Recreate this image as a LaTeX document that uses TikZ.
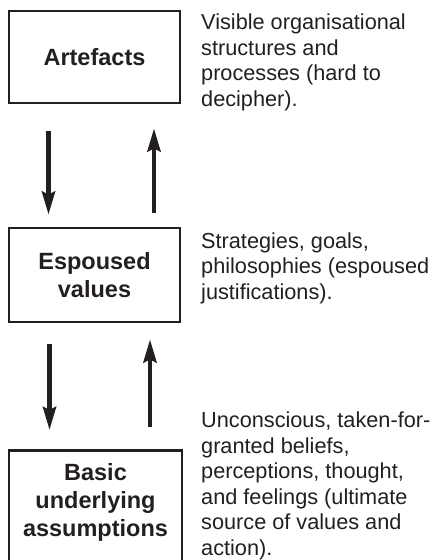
\documentclass[tikz,border=0pt]{standalone}
\usepackage{fontspec}
\setmainfont{Liberation Sans}
\usetikzlibrary{arrows.meta}
\definecolor{ink}{RGB}{35,31,32}
\tikzset{>={Stealth[width=13pt,length=23pt,inset=3pt]}}
\tikzset{
  level/.style={draw=ink, line width=2.8pt, minimum width=171pt, inner sep=0pt,
    align=center, text=ink, font=\fontsize{23.5}{28}\selectfont\bfseries},
  note/.style={anchor=base west, align=left, inner sep=0pt, text=ink,
    font=\fontsize{21.7}{25.5}\selectfont},
  flow/.style={->, draw=ink, line width=4.5pt}
}

\begin{document}
\begin{tikzpicture}[x=1pt,y=-1pt]
  \useasboundingbox (0,0) rectangle (432,560);
  \clip (0,0) rectangle (432,560);

  % levels
  \node[level, minimum height=92pt] (art) at (94.5,57) {Artefacts};
  \node[level, minimum height=94pt] (esp) at (94.5,275) {Espoused\\values};
  \node[level, minimum width=173pt, minimum height=170pt, anchor=north] (bua) at (95.5,449) {};
  \node[level, draw=none] (buatext) at (95.5,502) {Basic\\underlying\\assumptions};

  % notes (base = last line)
  \node[note] (artnote) at (201,106) {Visible organisational\\structures and\\processes (hard to\\decipher).};
  \node[note] (espnote) at (201,299) {Strategies, goals,\\philosophies (espoused\\justifications).};
  \node[note] (buanote) at (201,555) {Unconscious, taken-for-\\granted beliefs,\\perceptions, thought,\\and feelings (ultimate\\source of values and\\action).};

  % art <-> esp
  \draw[flow, shorten <=27pt, shorten >=12pt] ([xshift=-46]art.south) -- ([xshift=-46]art.south |- esp.north); % art->esp
  \draw[flow, shorten <=14pt, shorten >=24pt] ([xshift=59.5]esp.north) -- ([xshift=59.5]esp.north |- art.south); % esp->art

  % esp <-> bua
  \draw[flow, shorten <=21pt, shorten >=19pt] ([xshift=-45]esp.south) -- ([xshift=-45]esp.south |- bua.north); % esp->bua
  \draw[flow, shorten <=22pt, shorten >=16pt] ([xshift=55.5]esp.south |- bua.north) -- ([xshift=55.5]esp.south); % bua->esp
\end{tikzpicture}
\end{document}
